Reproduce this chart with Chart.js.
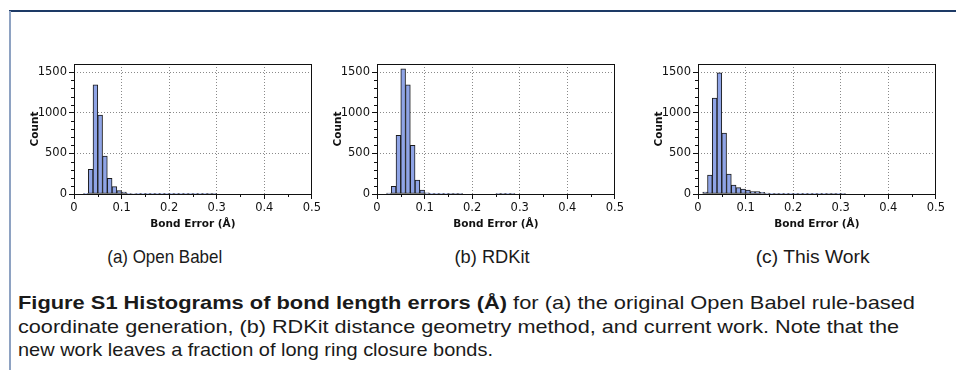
<!DOCTYPE html>
<html>
<head>
<meta charset="utf-8">
<script src="https://cdn.jsdelivr.net/npm/chart.js@4.4.1/dist/chart.umd.min.js"></script>
<style>
body{margin:0;background:#fff;width:956px;height:370px;overflow:hidden;position:relative;font-family:"Liberation Sans",Arial,sans-serif;color:#1a1a1a}
.frameTop{position:absolute;left:9px;top:10px;width:947px;height:2px;background:#1d3a66}
.frameLeft{position:absolute;left:9px;top:11px;width:2px;height:359px;background:#8ea2c2}
canvas{position:absolute;top:44px}
.sub{position:absolute;top:246px;font-size:18.5px;line-height:22px;white-space:nowrap;transform-origin:50% 50%}
.cap{position:absolute;left:18px;font-size:19px;line-height:22px;white-space:nowrap;transform-origin:0 50%}
</style>
</head>
<body>
<div class="frameTop"></div>
<div class="frameLeft"></div>
<canvas id="c1" width="313" height="200" style="left:10px"></canvas>
<canvas id="c2" width="313" height="200" style="left:313px"></canvas>
<canvas id="c3" width="313" height="200" style="left:634px"></canvas>
<div class="sub" data-w="115" data-c="165">(a) Open Babel</div>
<div class="sub" data-w="75" data-c="492">(b) RDKit</div>
<div class="sub" data-w="114" data-c="813">(c) This Work</div>
<div class="cap" data-w="897" style="top:292px"><b>Figure S1 Histograms of bond length errors (Å)</b> for (a) the original Open Babel rule-based</div>
<div class="cap" data-w="881" style="top:316px">coordinate generation, (b) RDKit distance geometry method, and current work. Note that the</div>
<div class="cap" data-w="475" style="top:339px">new work leaves a fraction of long ring closure bonds.</div>
<script>
// bin centres, 0.01 wide bins starting at 0.00
const binCenters = [0.005,0.015,0.025,0.035,0.045,0.055,0.065,0.075,0.085,0.095,
  0.105,0.115,0.125,0.135,0.145,0.155,0.165,0.175,0.185,0.195,
  0.205,0.215,0.225,0.235,0.245,0.255,0.265,0.275,0.285,0.295,0.305];

const openBabelCounts = [0,0,4,304,1345,972,467,193,90,41,25,8,6,5,4,4,3,3,3,3,2,2,2,2,2,3,2,2,1,1,0];
const rdkitCounts     = [0,0,12,94,722,1541,1345,598,172,49,15,8,5,4,2,1,1,1,0,0,0,0,0,0,0,1,1,3,1,0,0];
const thisWorkCounts  = [0,25,234,1181,1492,750,246,111,78,61,49,29,29,20,12,9,7,8,4,4,5,3,3,4,5,4,2,1,1,2,1];

const xTicks = [0,0.1,0.2,0.3,0.4,0.5];
const yTicks = [0,500,1000,1500];
const xMinor = [0.05,0.15,0.25,0.35,0.45];
const yMinorStep = 100;

// minor ticks + plot frame
const framePlugin = {
  id: 'framePlugin',
  afterDraw(chart) {
    const {ctx, chartArea: a, scales: {x, y}} = chart;
    ctx.save();
    ctx.strokeStyle = '#111';
    ctx.lineWidth = 1;
    ctx.beginPath();
    for (let v = yMinorStep; v < y.max; v += yMinorStep) {
      if (yTicks.includes(v)) continue;
      const py = Math.round(y.getPixelForValue(v)) + 0.5;
      ctx.moveTo(a.left - 3, py); ctx.lineTo(a.left, py);
    }
    xMinor.forEach(v => {
      const px = Math.round(x.getPixelForValue(v)) + 0.5;
      ctx.moveTo(px, a.bottom); ctx.lineTo(px, a.bottom + 3);
    });
    ctx.stroke();
    ctx.strokeRect(Math.round(a.left) + 0.5, Math.round(a.top) + 0.5,
      Math.round(a.right - a.left) - 1, Math.round(a.bottom - a.top));
    ctx.restore();
  }
};

const tickFont = {family: 'DejaVu Sans', size: 11.5};
const titleFont = {family: 'DejaVu Sans', size: 10.5, weight: 'bold'};

function makeHist(id, counts) {
  return new Chart(document.getElementById(id), {
    type: 'bar',
    data: {
      datasets: [{
        data: binCenters.map((c, i) => ({x: c, y: counts[i]})),
        backgroundColor: '#8fa4e6',
        borderColor: '#1a1a1a',
        borderWidth: 1,
        borderSkipped: false,
        barPercentage: 1,
        categoryPercentage: 1
      }]
    },
    options: {
      responsive: false,
      animation: false,
      devicePixelRatio: 1,
      layout: {padding: {top: 20, right: 10, left: 0, bottom: 0}},
      plugins: {legend: {display: false}, tooltip: {enabled: false}},
      scales: {
        x: {
          type: 'linear', min: 0, max: 0.5, offset: false,
          afterBuildTicks: s => { s.ticks = xTicks.map(v => ({value: v})); },
          afterFit: s => { s.height = 50; },
          ticks: {font: tickFont, color: '#111', padding: 2, maxRotation: 0,
            callback: v => String(v)},
          grid: {offset: false, color: '#8a8a8a', lineWidth: 1, tickColor: '#111',
            tickLength: 5, tickBorderDash: []},
          border: {display: false, dash: [1, 2]},
          title: {display: true, text: 'Bond Error (Å)', font: titleFont, color: '#111',
            padding: {top: 0, bottom: 13}}
        },
        y: {
          min: 0, max: 1600,
          afterBuildTicks: s => { s.ticks = yTicks.map(v => ({value: v})); },
          afterFit: s => { s.width = 64; },
          ticks: {font: tickFont, color: '#111', padding: 2, callback: v => String(v)},
          grid: {color: '#8a8a8a', lineWidth: 1, tickColor: '#111',
            tickLength: 5, tickBorderDash: []},
          border: {display: false, dash: [1, 2]},
          title: {display: true, text: 'Count', font: titleFont, color: '#111',
            padding: {top: 19, bottom: 0}}
        }
      }
    },
    plugins: [framePlugin]
  });
}

makeHist('c1', openBabelCounts);
makeHist('c2', rdkitCounts);
makeHist('c3', thisWorkCounts);

// stretch caption lines to the widths measured in the figure
document.querySelectorAll('.cap').forEach(el => {
  const w = el.getBoundingClientRect().width;
  el.style.transform = 'scaleX(' + (el.dataset.w / w) + ')';
});
document.querySelectorAll('.sub').forEach(el => {
  const w = el.getBoundingClientRect().width;
  el.style.left = (el.dataset.c - w / 2) + 'px';
  el.style.transform = 'scaleX(' + (el.dataset.w / w) + ')';
});
</script>
</body>
</html>
